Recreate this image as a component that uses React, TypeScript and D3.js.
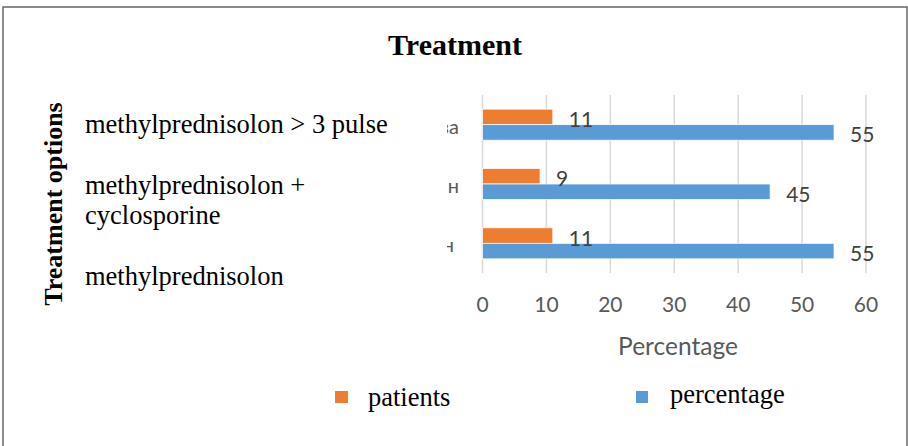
import React from "react";
import * as d3 from "d3";

const categories = ["methylprednisolon > 3 pulse", "methylprednisolon + cyclosporine", "methylprednisolon"];
const categoryTextLines = ["methylprednisolon > 3 pulse", "", "methylprednisolon +", "cyclosporine", "", "methylprednisolon"];
const axisFragments = ["раза", "н", "н"];
const seriesNames = ["patients", "percentage"];
const patients = [11, 9, 11];
const percentage = [55, 45, 55];
const xTicks = [0, 10, 20, 30, 40, 50, 60];
const colors = ["#ED7D31", "#5B9BD5"];

export default function App() {
  const W = 908, H = 446;
  const x = d3.scaleLinear().domain([0, 60]).range([482.5, 866]);
  const y = d3.scaleBand<string>().domain(categories).range([95, 273]).padding(0);
  const step = y.bandwidth();
  const groupH = step * 0.523;
  const y1 = d3.scaleBand<string>().domain(seriesNames).range([0, groupH]);
  const values = [patients, percentage];
  const serif = "'Liberation Serif', 'Times New Roman', serif";
  const sans = "Lato, 'Open Sans', sans-serif";

  const bars: { key: string; bx: number; by: number; bw: number; bh: number; color: string; v: number }[] = [];
  categories.forEach((c, i) => {
    const g0 = (y(c) as number) + (step - groupH) / 2;
    seriesNames.forEach((s, k) => {
      const v = values[k][i];
      bars.push({
        key: c + s,
        bx: x(0),
        by: g0 + (y1(s) as number),
        bw: x(v) - x(0),
        bh: y1.bandwidth(),
        color: colors[k],
        v,
      });
    });
  });

  return (
    <svg width={W} height={H} style={{ position: "absolute", left: 0, top: 0, background: "#fff" }}>
      <rect x={3} y={7} width={904} height={470} fill="#fff" stroke="#666" strokeWidth={1.5} />
      <text x={455} y={55} textAnchor="middle" fontFamily={serif} fontWeight="bold" fontSize={30} fill="#000">Treatment</text>
      <text transform="translate(62,204) rotate(-90)" textAnchor="middle" fontFamily={serif} fontWeight="bold" fontSize={26} fill="#000">Treatment options</text>

      {xTicks.map((t) => (
        <line key={"g" + t} x1={x(t)} x2={x(t)} y1={95} y2={273} stroke="#d9d9d9" strokeWidth={1.5} />
      ))}

      {bars.map((b) => (
        <rect key={b.key} x={b.bx} y={b.by} width={b.bw} height={b.bh} fill={b.color} stroke="#fff" strokeWidth={0.75} />
      ))}
      {bars.map((b) => (
        <text key={"v" + b.key} x={b.bx + b.bw + 16} y={b.by + b.bh / 2 + 1.5} dominantBaseline="central" fontFamily={sans} fontSize={21} fill="#404040">{b.v}</text>
      ))}

      <defs>
        <clipPath id="axclip">
          <rect x={447} y={95} width={30} height={178} />
        </clipPath>
      </defs>
      <g clipPath="url(#axclip)">
        {categories.map((c, i) => (
          <text key={"a" + c} x={i === 2 ? 454 : 459} y={(y(c) as number) + step / 2 + 1} textAnchor="end" dominantBaseline="central" fontFamily={sans} fontSize={20} fill="#595959">{axisFragments[i]}</text>
        ))}
      </g>

      {xTicks.map((t) => (
        <text key={"t" + t} x={x(t)} y={303.5} textAnchor="middle" dominantBaseline="central" fontFamily={sans} fontSize={21} fill="#595959">{t}</text>
      ))}
      <text x={678} y={355} textAnchor="middle" fontFamily={sans} fontSize={24.5} fill="#595959">Percentage</text>

      <text fontFamily={serif} fontSize={26.5} fill="#000">
        {categoryTextLines.map((ln, j) => (
          <tspan key={j} x={85} y={133 + j * 30.4}>{ln}</tspan>
        ))}
      </text>

      <rect x={335} y={391} width={13} height={12} fill={colors[0]} />
      <text x={368} y={406} fontFamily={serif} fontSize={26.5} fill="#000">{seriesNames[0]}</text>
      <rect x={636} y={391} width={12} height={12} fill={colors[1]} />
      <text x={670} y={403} fontFamily={serif} fontSize={26.5} fill="#000">{seriesNames[1]}</text>
    </svg>
  );
}
